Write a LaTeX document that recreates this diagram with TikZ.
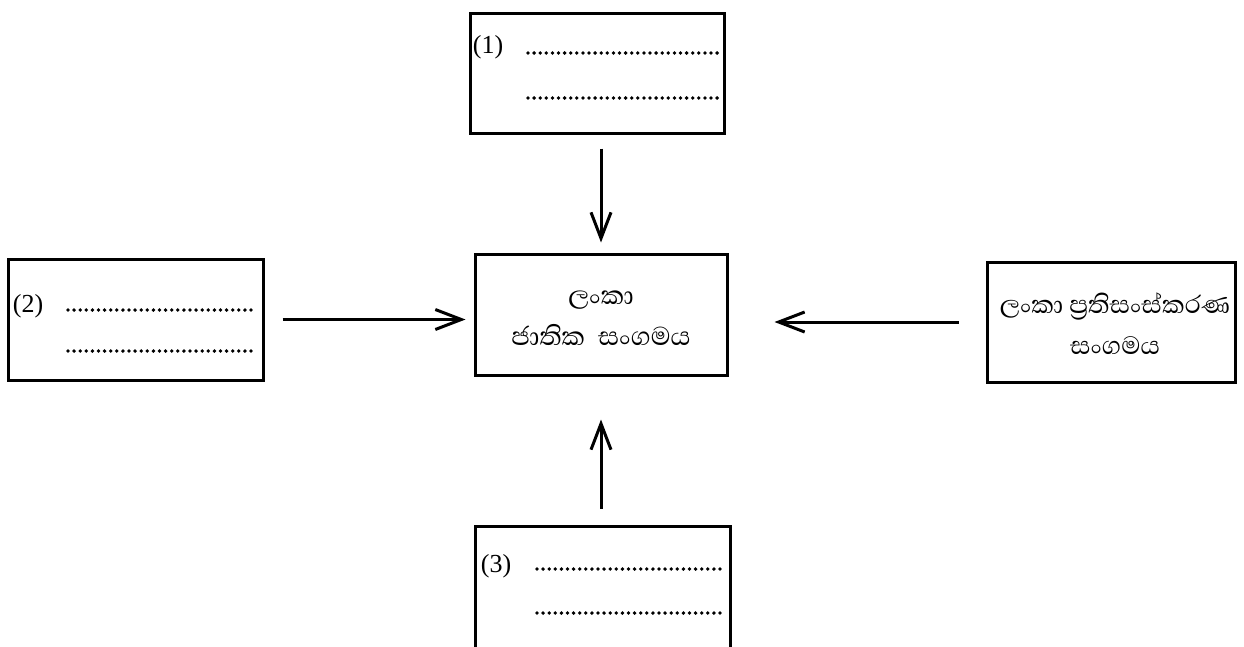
\documentclass[tikz,border=0pt]{standalone}
\usepackage{fontspec}
\setmainfont{Liberation Serif}
\newfontfamily\sinhala[Script=Sinhala]{Abhaya Libre}
\usetikzlibrary{arrows.meta}
\begin{document}
\begin{tikzpicture}[x=1pt,y=-1pt,
  box/.style={draw,line width=3pt,rectangle,inner sep=0pt},
  conn/.style={line width=3pt,-{Straight Barb[length=26pt,width=20pt,line width=3pt]}},
  dots/.style={line width=3.8pt,line cap=round,dash pattern=on 0pt off 6.1pt},
  num/.style={font=\fontsize{26}{28}\selectfont,inner sep=0pt},
  sin/.style={font=\sinhala\fontsize{33}{41}\selectfont,align=center,inner sep=0pt}]
\useasboundingbox (0,0) rectangle (1244,646);
\clip (0,0) rectangle (1244,646);
% boxes
\node[box,minimum width=254pt,minimum height=120pt] (b1) at (597,73) {};
\node[box,minimum width=252pt,minimum height=121pt] (c) at (601,314.5) {};
\node[box,minimum width=255pt,minimum height=121pt] (b2) at (135.5,319.5) {};
\node[box,minimum width=248pt,minimum height=120pt] (r) at (1111,322) {};
\node[box,minimum width=255pt,minimum height=140pt] (b3) at (602.5,596) {};
% texts
\node[sin] (ct) at (601,318) {ලංකා\\ජාතික\hspace{0.2em} සංගමය};
\node[sin,font=\sinhala\fontsize{32}{41}\selectfont] (rt) at (1115,324) {ලංකා ප්‍රතිසංස්කරණ\\සංගමය};
\node[num] (n1) at (488,47) {(1)};
\node[num] (n2) at (28,306) {(2)};
\node[num] (n3) at (496,566) {(3)};
% dotted lines
\draw[dots] (528,53) -- (718,53);
\draw[dots] (528,98) -- (718,98);
\draw[dots] (68,310) -- (257,310);
\draw[dots] (68,351) -- (257,351);
\draw[dots] (537,569) -- (725,569);
\draw[dots] (537,613) -- (725,613);
% connectors
\draw[conn,shorten <=14pt,shorten >=10pt] (c.north |- b1.south) -- (c.north);
\draw[conn,shorten <=18pt,shorten >=8pt] (b2.east) -- (b2.east -| c.west);
\draw[conn,shorten <=27pt,shorten >=46pt] (r.west) -- (r.west -| c.east);
\draw[conn,shorten <=16pt,shorten >=43pt] (c.south |- b3.north) -- (c.south);
\end{tikzpicture}
\end{document}
